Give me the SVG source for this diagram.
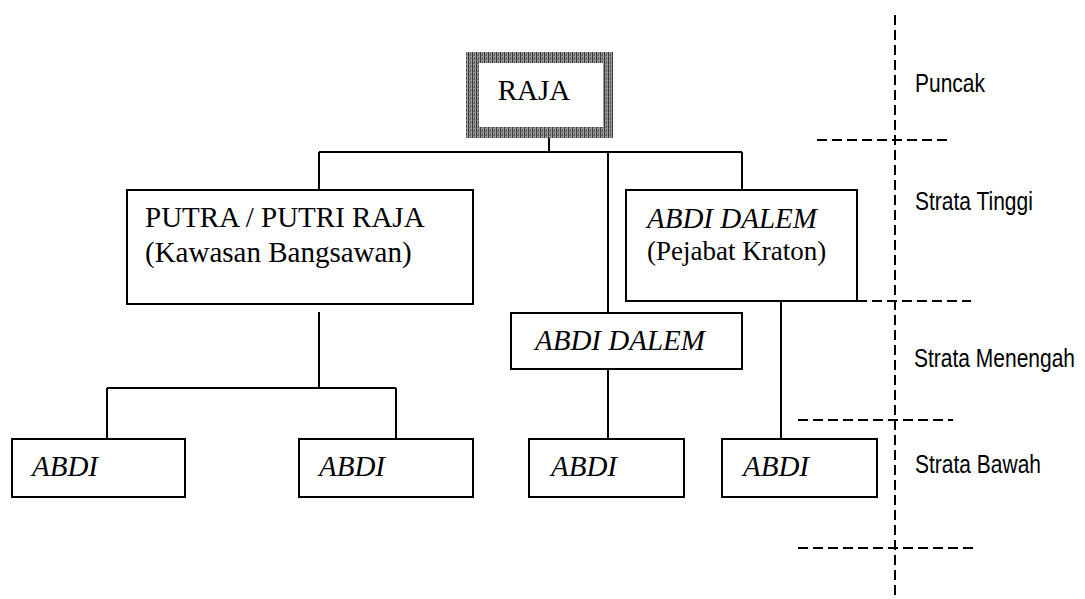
<svg xmlns="http://www.w3.org/2000/svg" width="1085" height="599" viewBox="0 0 1085 599">
<style>
.box{fill:#fff;stroke:#000;stroke-width:2}
.ln{fill:none;stroke:#000;stroke-width:2}
.dash{fill:none;stroke:#000;stroke-width:2;stroke-dasharray:10 5}
.t{font-family:"Liberation Serif","Times New Roman",serif;font-size:29px;fill:#000}
.i{font-style:italic}
.lab{font-family:"Liberation Sans",Arial,sans-serif;font-size:25px;fill:#000}
</style>
<defs>
<pattern id="hatch" width="4" height="4" patternUnits="userSpaceOnUse">
<rect width="4" height="4" fill="#9a9a9a"/>
<rect x="0" y="0" width="1" height="4" fill="#3a3a3a"/>
<rect x="2" y="1" width="1" height="2" fill="#555"/>
<rect x="1" y="3" width="2" height="1" fill="#6a6a6a"/>
</pattern>
</defs>
<rect width="1085" height="599" fill="#fff"/>
<g id="connectors">
<path class="ln" d="M549 138V152M319 152H742M319 152V190M608 152V313M742 152V190"/>
<path class="ln" d="M319 312V388M107 388H396M107 388V439M396 388V439"/>
<path class="ln" d="M608 369V439M781 301V439"/>
</g>
<g id="strata-lines">
<path class="dash" d="M895 15V599"/>
<path class="dash" d="M817 140H947"/>
<path class="dash" d="M857 301H971"/>
<path class="dash" d="M798 420H953"/>
<path class="dash" d="M798 548H973"/>
</g>
<g id="raja">
<rect x="466" y="52" width="147" height="86" fill="url(#hatch)"/>
<rect x="479" y="63" width="124" height="64" fill="#fff"/>
<text class="t" x="534" y="100" text-anchor="middle">RAJA</text>
</g>
<g id="putra">
<rect class="box" x="127" y="190" width="346" height="114"/>
<text class="t" x="145" y="227">PUTRA / PUTRI RAJA</text>
<text class="t" x="145" y="262">(Kawasan Bangsawan)</text>
</g>
<g id="abdi-dalem-kraton">
<rect class="box" x="626" y="190" width="231" height="111"/>
<text class="t i" x="647" y="228">ABDI DALEM</text>
<text class="t" x="647" y="260" style="font-size:27px">(Pejabat Kraton)</text>
</g>
<g id="abdi-dalem-mid">
<rect class="box" x="511" y="313" width="231" height="56"/>
<text class="t i" x="535" y="350">ABDI DALEM</text>
</g>
<g id="abdi1">
<rect class="box" x="12" y="439" width="173" height="58"/>
<text class="t i" x="32" y="476">ABDI</text>
</g>
<g id="abdi2">
<rect class="box" x="299" y="439" width="174" height="58"/>
<text class="t i" x="319" y="476">ABDI</text>
</g>
<g id="abdi3">
<rect class="box" x="529" y="439" width="155" height="58"/>
<text class="t i" x="551" y="476">ABDI</text>
</g>
<g id="abdi4">
<rect class="box" x="722" y="439" width="155" height="58"/>
<text class="t i" x="743" y="476">ABDI</text>
</g>
<g id="labels">
<text class="lab" transform="translate(915 92) scale(0.84 1)">Puncak</text>
<text class="lab" transform="translate(915 210) scale(0.84 1)">Strata Tinggi</text>
<text class="lab" transform="translate(914 367) scale(0.84 1)">Strata Menengah</text>
<text class="lab" transform="translate(915 473) scale(0.84 1)">Strata Bawah</text>
</g>
</svg>
